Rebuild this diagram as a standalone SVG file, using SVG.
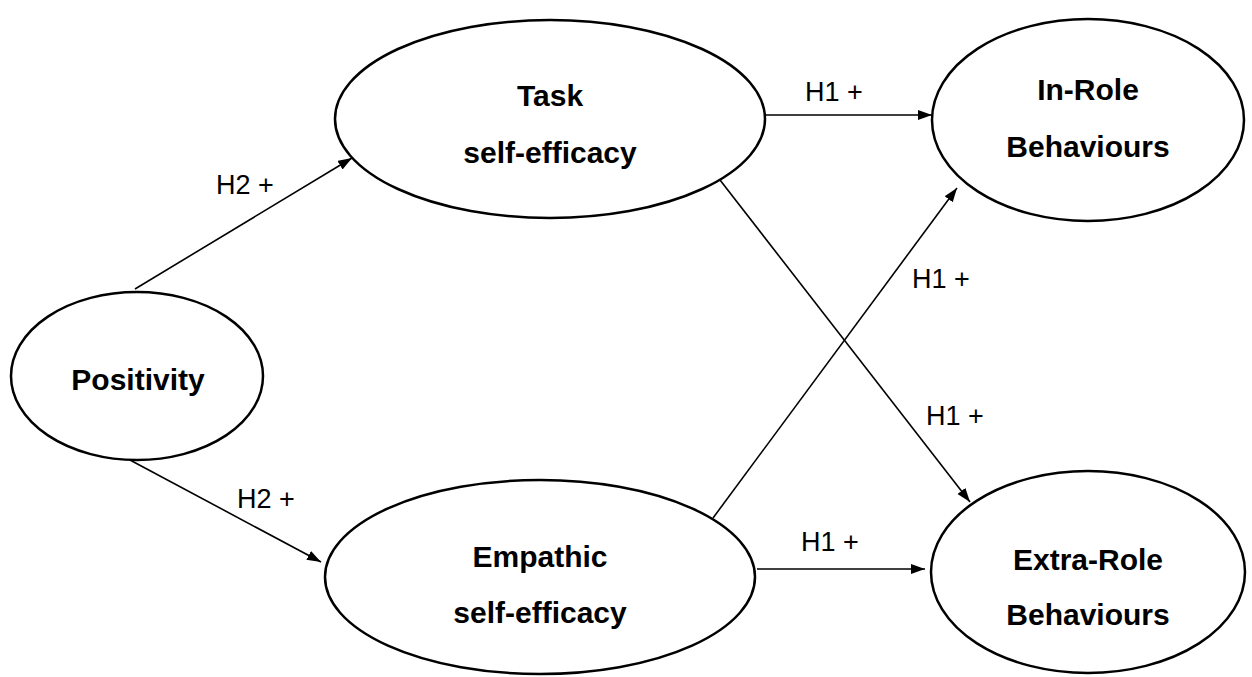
<svg xmlns="http://www.w3.org/2000/svg" width="1252" height="677" viewBox="0 0 1252 677">
<style>
.node{fill:#fff;stroke:#000;stroke-width:2.5}
.nt{font-family:"Liberation Sans",Arial,sans-serif;font-weight:bold;font-size:30px;text-anchor:middle;fill:#000}
.edge{stroke:#000;stroke-width:1.6;fill:none;marker-end:url(#ah)}
.lbl{font-family:"Liberation Sans",Arial,sans-serif;font-size:27px;fill:#000}
</style>
<defs>
<marker id="ah" markerUnits="userSpaceOnUse" markerWidth="16" markerHeight="12" refX="14" refY="5" orient="auto">
<path d="M0,0 L14,5 L0,10 Z" fill="#000"/>
</marker>
</defs>
<rect width="1252" height="677" fill="#fff"/>
<g id="connectors">
<line class="edge" x1="135" y1="289" x2="352" y2="158"/>
<line class="edge" x1="130" y1="460" x2="321" y2="562"/>
<line class="edge" x1="765" y1="115" x2="932" y2="115"/>
<line class="edge" x1="720" y1="180" x2="970" y2="502"/>
<line class="edge" x1="713" y1="518" x2="957" y2="188"/>
<line class="edge" x1="757" y1="569" x2="925" y2="569"/>
<text class="lbl" x="216" y="194">H2 +</text>
<text class="lbl" x="805" y="101">H1 +</text>
<text class="lbl" x="912" y="288">H1 +</text>
<text class="lbl" x="926" y="425">H1 +</text>
<text class="lbl" x="237" y="508">H2 +</text>
<text class="lbl" x="801" y="551">H1 +</text>
</g>
<g id="positivity">
<ellipse class="node" cx="137" cy="376" rx="126" ry="84"/>
<text class="nt" x="138" y="390">Positivity</text>
</g>
<g id="task">
<ellipse class="node" cx="550" cy="119" rx="215" ry="99"/>
<text class="nt" x="550" y="106">Task</text>
<text class="nt" x="550" y="163">self-efficacy</text>
</g>
<g id="inrole">
<ellipse class="node" cx="1088" cy="120" rx="156" ry="101"/>
<text class="nt" x="1088" y="100">In-Role</text>
<text class="nt" x="1088" y="157">Behaviours</text>
</g>
<g id="empathic">
<ellipse class="node" cx="540" cy="577" rx="215" ry="97"/>
<text class="nt" x="540" y="567">Empathic</text>
<text class="nt" x="540" y="623">self-efficacy</text>
</g>
<g id="extrarole">
<ellipse class="node" cx="1088" cy="572" rx="157" ry="101"/>
<text class="nt" x="1088" y="570">Extra-Role</text>
<text class="nt" x="1088" y="625">Behaviours</text>
</g>
</svg>
